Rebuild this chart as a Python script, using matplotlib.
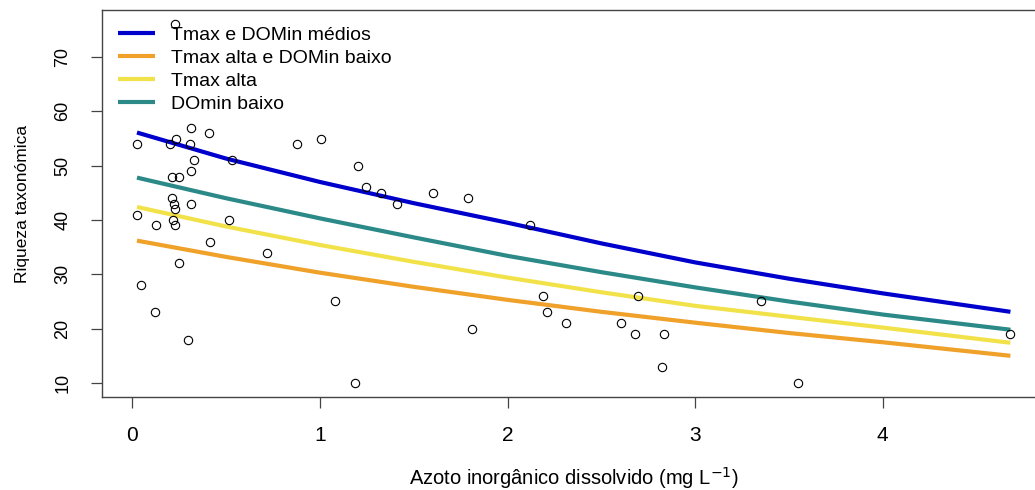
import matplotlib
matplotlib.use("Agg")
import matplotlib.pyplot as plt

plt.rcParams['font.family'] = ['Liberation Sans', 'DejaVu Sans']

# observed data (x: dissolved inorganic nitrogen, y: taxonomic richness)
obs_x = [0.227, 0.312, 0.406, 0.024, 0.200, 0.234, 0.305, 0.328, 0.529, 0.876,
         1.004, 1.204, 1.245, 1.327, 1.409, 0.312, 0.209, 0.246, 0.211, 0.221,
         0.227, 0.312, 0.024, 0.218, 0.227, 0.125, 0.515, 0.413, 0.716, 0.246,
         0.044, 0.118, 1.078, 0.298, 1.187, 1.601, 1.789, 2.118, 2.191, 2.211,
         2.312, 1.809, 2.694, 2.607, 2.682, 2.836, 2.824, 3.352, 3.548, 4.682]
obs_y = [76, 57, 56, 54, 54, 55, 54, 51, 51, 54,
         55, 50, 46, 45, 43, 49, 48, 48, 44, 43,
         42, 43, 41, 40, 39, 39, 40, 36, 34, 32,
         28, 23, 25, 18, 10, 45, 44, 39, 26, 23,
         21, 20, 26, 21, 19, 19, 13, 25, 10, 19]

# fitted curves
curve_x = [0.024, 0.5, 1.0, 1.5, 2.0, 2.5, 3.0, 3.5, 4.0, 4.682]
medios = [56.1, 51.3, 47.0, 43.1, 39.5, 35.7, 32.2, 29.2, 26.5, 23.1]
alta_baixo = [36.2, 33.2, 30.3, 27.7, 25.3, 23.1, 21.1, 19.2, 17.5, 15.0]
tmax_alta = [42.4, 38.8, 35.4, 32.3, 29.4, 26.7, 24.2, 22.2, 20.2, 17.4]
domin_baixo = [47.8, 44.0, 40.3, 36.8, 33.4, 30.4, 27.6, 25.0, 22.6, 19.8]

labels = ["Tmax e DOMin médios", "Tmax alta e DOMin baixo", "Tmax alta", "DOmin baixo"]
colors = ["#0000CC", "#EFA12A", "#F2E24A", "#2B8A87"]

W, H = 1035, 490
fig = plt.figure(figsize=(W / 100, H / 100), dpi=100)
left, right, top, bottom = 102.1, 1045.3, 10.1, 397.3
ax = fig.add_axes([left / W, 1 - bottom / H, (right - left) / W, (bottom - top) / H])

for ys, c, lab in zip([medios, alta_baixo, tmax_alta, domin_baixo], colors, labels):
    ax.plot(curve_x, ys, color=c, lw=3, label=lab, solid_capstyle='butt', zorder=2)

ax.plot(obs_x, obs_y, linestyle='none', marker='o', ms=6, mfc='none', mec='black',
        mew=0.8, zorder=3)

ax.set_xlim(-0.162, 4.868)
ax.set_ylim(7.36, 78.64)
ax.set_xticks([0, 1, 2, 3, 4])
ax.set_yticks([10, 20, 30, 40, 50, 60, 70])
for s in ax.spines.values():
    s.set_color('#444444')
    s.set_linewidth(1.0)
ax.tick_params(axis='both', direction='out', length=8, width=0.9, color='#444444')
ax.tick_params(axis='x', labelsize=15, pad=13)
ax.tick_params(axis='y', labelsize=13, pad=14)
for t in ax.get_yticklabels():
    t.set_rotation(90)
    t.set_va('center')

ax.set_xlabel(r"Azoto inorgânico dissolvido (mg L$^{-1}$)", fontsize=14.5, labelpad=14)
ax.set_ylabel("Riqueza taxonómica", fontsize=12.5, labelpad=18)

ax.legend(loc='upper left', bbox_to_anchor=((118 - left) / (right - left), 1 - 16 / (bottom - top)),
          frameon=False, fontsize=14, handlelength=1.9, handletextpad=0.85,
          labelspacing=0.28, borderpad=0, borderaxespad=0)

fig.savefig("out.png", dpi=100)
